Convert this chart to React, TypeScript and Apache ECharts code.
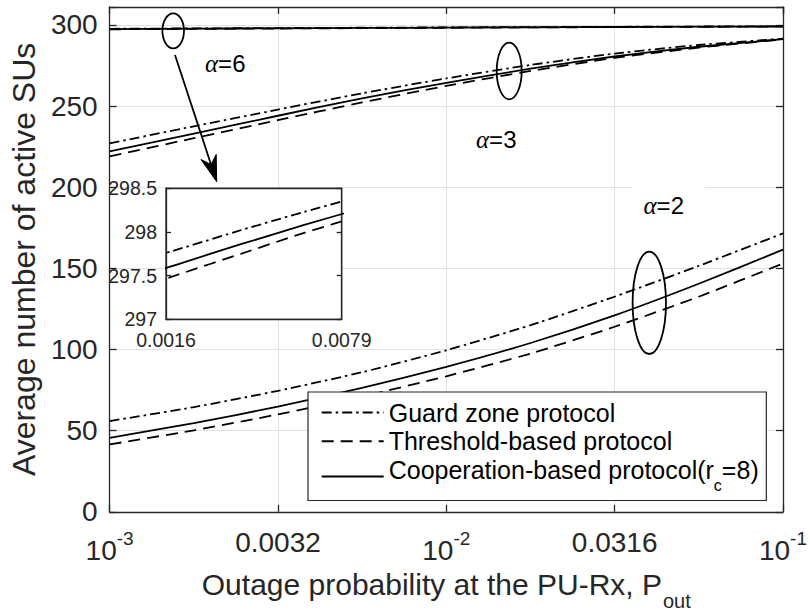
import React, { useEffect, useRef } from 'react';
import * as echarts from 'echarts';

// ---- data ----
const X_POUT = [0.001, 0.00178, 0.00316, 0.00562, 0.01, 0.0178, 0.0316, 0.0562, 0.1];

const GUARD_A2 = [55.9, 64.5, 74.5, 86, 99.5, 115, 132.5, 151.5, 171.5];
const THRESH_A2 = [41.5, 50.2, 60, 71, 83.5, 97.5, 114, 132.5, 153];
const COOP_A2 = [45.6, 54.6, 64.8, 76.3, 89.3, 104, 121, 140.5, 161.5];

const GUARD_A3 = [227, 237.5, 247.8, 257.8, 267, 275.3, 282.3, 287.6, 291.5];
const THRESH_A3 = [219, 230.2, 241.3, 252.2, 262.4, 271.6, 279.6, 286, 291];
const COOP_A3 = [222, 233, 244, 254.7, 264.3, 273, 280.5, 286.5, 291.2];

const GUARD_A6 = [297.58, 297.8, 298.02, 298.23, 298.43, 298.62, 298.8, 298.97, 299.12];
const THRESH_A6 = [297.26, 297.51, 297.75, 297.99, 298.21, 298.42, 298.62, 298.8, 298.97];
const COOP_A6 = [297.4, 297.63, 297.86, 298.08, 298.29, 298.49, 298.68, 298.86, 299.02];

const X_TICKS = [0.001, 0.0031623, 0.01, 0.031623, 0.1];
const X_TICK_LABELS = ['10^-3', '0.0032', '10^-2', '0.0316', '10^-1'];
const INSET_X_TICKS = [0.0016, 0.0079];
const INSET_X_LABELS = ['0.0016', '0.0079'];

const SERIES_NAMES = ['Guard zone protocol', 'Threshold-based protocol', 'Cooperation-based protocol'];

const FONT = 'Liberation Sans, Arial, sans-serif';
const AX = '#262626';
const GRIDC = '#e2e2e2';
const DASHDOT = [10, 4, 2.5, 4];
const DASHED = [12, 7];
const LW = 1.8;

function pairs(ys: number[]) {
  return X_POUT.map((x, i) => [x, ys[i]]);
}

function xLabel(v: number) {
  const lv = Math.log10(v);
  let best = 0;
  X_TICKS.forEach((t, i) => {
    if (Math.abs(Math.log10(t) - lv) < Math.abs(Math.log10(X_TICKS[best]) - lv)) best = i;
  });
  if (Math.abs(Math.log10(X_TICKS[best]) - lv) > 0.01) return '';
  const s = X_TICK_LABELS[best];
  if (s.indexOf('^') >= 0) {
    const [b, e] = s.split('^');
    return `{b|${b}}{s|${e}}`;
  }
  return `{n|${s}}`;
}

function insetXLabel(v: number) {
  for (let i = 0; i < INSET_X_TICKS.length; i++) {
    if (Math.abs(Math.log10(INSET_X_TICKS[i]) - Math.log10(v)) < 0.01) return INSET_X_LABELS[i];
  }
  return '';
}

export default function App() {
  const ref = useRef<HTMLDivElement>(null);
  useEffect(() => {
    const chart = echarts.init(ref.current!, null, { renderer: 'svg' });

    const styleFor = (k: number) => ({
      color: '#000',
      width: LW,
      type: k === 0 ? DASHDOT : k === 1 ? DASHED : 'solid',
    });

    const groups = [
      [GUARD_A2, THRESH_A2, COOP_A2],
      [GUARD_A3, THRESH_A3, COOP_A3],
      [GUARD_A6, THRESH_A6, COOP_A6],
    ];

    const series: any[] = [];
    groups.forEach((g) => {
      g.forEach((ys, k) => {
        series.push({
          type: 'line',
          name: SERIES_NAMES[k],
          xAxisIndex: 0,
          yAxisIndex: 0,
          data: pairs(ys),
          showSymbol: false,
          symbol: 'none',
          smooth: 0.2,
          lineStyle: styleFor(k),
          itemStyle: { color: '#000' },
          z: 3,
        });
      });
    });
    // inset: alpha = 6 zoomed
    groups[2].forEach((ys, k) => {
      series.push({
        type: 'line',
        name: SERIES_NAMES[k],
        xAxisIndex: 2,
        yAxisIndex: 2,
        data: pairs(ys),
        showSymbol: false,
        symbol: 'none',
        smooth: 0.2,
        clip: true,
        lineStyle: styleFor(k),
        itemStyle: { color: '#000' },
        z: 6,
      });
    });

    const axLine = { show: true, onZero: false, lineStyle: { color: AX, width: 1.3 } };
    const tickIn = (len: number) => ({ show: true, inside: true, length: len, lineStyle: { color: AX, width: 1.3 } });
    const alphaRich = {
      a: { fontSize: 25, fontStyle: 'italic', fontFamily: 'Liberation Serif, serif', fill: '#000' },
      b: { fontSize: 24, fontFamily: FONT, fill: '#000' },
    };

    const option: any = {
      animation: false,
      backgroundColor: '#fff',
      textStyle: { fontFamily: FONT },
      grid: [
        { left: 105, top: 7, right: 27, bottom: 101.5, show: false },
        { left: 166, top: 188.3, width: 175.7, height: 131, show: true, backgroundColor: '#fff', borderColor: AX, borderWidth: 1.3, z: 1 },
      ],
      xAxis: [
        {
          gridIndex: 0,
          type: 'log',
          logBase: Math.sqrt(10),
          min: 0.001,
          max: 0.1,
          position: 'bottom',
          axisLine: axLine,
          axisTick: tickIn(7),
          minorTick: { show: false },
          splitLine: { show: true, lineStyle: { color: GRIDC, width: 1 } },
          axisLabel: {
            margin: 16.8,
            color: AX,
            formatter: (v: number) => xLabel(v),
            rich: {
              n: { fontSize: 28, lineHeight: 28, verticalAlign: 'top', color: AX, fontFamily: FONT },
              b: { fontSize: 28, lineHeight: 28, verticalAlign: 'top', padding: [8, 0, 0, 0], color: AX, fontFamily: FONT },
              s: { fontSize: 19, lineHeight: 19, verticalAlign: 'top', color: AX, fontFamily: FONT },
            },
          },
          name: '{m|Outage probability at the PU-Rx, P}{s|out}',
          nameLocation: 'middle',
          nameGap: 57,
          nameTextStyle: {
            color: AX,
            rich: {
              m: { fontSize: 30, lineHeight: 30, verticalAlign: 'top', color: AX, fontFamily: FONT },
              s: { fontSize: 20, lineHeight: 20, verticalAlign: 'top', padding: [21.5, 0, 0, 1], color: AX, fontFamily: FONT },
            },
          },
        },
        {
          gridIndex: 0,
          type: 'log',
          logBase: Math.sqrt(10),
          min: 0.001,
          max: 0.1,
          position: 'top',
          axisLine: axLine,
          axisTick: tickIn(7),
          minorTick: { show: false },
          splitLine: { show: false },
          axisLabel: { show: false },
        },
        {
          gridIndex: 1,
          type: 'log',
          min: 0.0016,
          max: 0.0079,
          position: 'bottom',
          z: 5,
          axisLine: axLine,
          axisTick: { show: false },
          minorTick: { show: false },
          splitLine: { show: false },
          axisLabel: {
            margin: 11,
            color: AX,
            fontSize: 19.5,
            fontFamily: FONT,
            showMinLabel: true,
            showMaxLabel: true,
            formatter: (v: number) => insetXLabel(v),
          },
        },
        {
          gridIndex: 1,
          type: 'log',
          min: 0.0016,
          max: 0.0079,
          position: 'top',
          z: 5,
          axisLine: axLine,
          axisTick: { show: false },
          minorTick: { show: false },
          splitLine: { show: false },
          axisLabel: { show: false },
        },
      ],
      yAxis: [
        {
          gridIndex: 0,
          type: 'value',
          min: 0,
          max: 311,
          interval: 50,
          position: 'left',
          axisLine: axLine,
          axisTick: tickIn(7),
          splitLine: { show: true, lineStyle: { color: GRIDC, width: 1 } },
          axisLabel: {
            margin: 12,
            color: AX,
            fontSize: 28,
            fontFamily: FONT,
            formatter: (v: number) => (v % 50 === 0 ? String(v) : ''),
          },
          name: 'Average number of active SUs',
          nameLocation: 'middle',
          nameGap: 64,
          nameTextStyle: { color: AX, fontSize: 32, lineHeight: 32, fontFamily: FONT },
        },
        {
          gridIndex: 0,
          type: 'value',
          min: 0,
          max: 311,
          interval: 50,
          position: 'right',
          axisLine: axLine,
          axisTick: tickIn(7),
          splitLine: { show: false },
          axisLabel: { show: false },
        },
        {
          gridIndex: 1,
          type: 'value',
          min: 297,
          max: 298.5,
          interval: 0.5,
          position: 'left',
          z: 5,
          axisLine: axLine,
          axisTick: tickIn(5),
          splitLine: { show: false },
          axisLabel: { margin: 9, color: AX, fontSize: 19.5, fontFamily: FONT },
        },
        {
          gridIndex: 1,
          type: 'value',
          min: 297,
          max: 298.5,
          interval: 0.5,
          position: 'right',
          z: 5,
          axisLine: axLine,
          axisTick: tickIn(5),
          splitLine: { show: false },
          axisLabel: { show: false },
        },
      ],
      legend: {
        data: SERIES_NAMES,
        orient: 'vertical',
        left: 308,
        top: 392,
        itemWidth: 62,
        itemHeight: 14,
        itemGap: 3.7,
        padding: [8.1, 7.6, 7.4, 12.7],
        backgroundColor: '#fff',
        borderColor: AX,
        borderWidth: 1.2,
        z: 8,
        selectedMode: false,
        itemStyle: { color: 'rgba(0,0,0,0)', borderColor: 'rgba(0,0,0,0)', borderWidth: 0 },
        formatter: (name: string) =>
          name === SERIES_NAMES[2] ? '{T|Cooperation-based protocol(r}{u|c}{T|=8)}' : `{t|${name}}`,
        textStyle: {
          color: '#000',
          fontSize: 25,
          fontFamily: FONT,
          rich: {
            t: { fontSize: 25, lineHeight: 25, color: '#000', fontFamily: FONT },
            T: { fontSize: 25, lineHeight: 25, verticalAlign: 'top', color: '#000', fontFamily: FONT },
            u: { fontSize: 16, verticalAlign: 'top', padding: [19.6, 0, 2.5, 0], color: '#000', fontFamily: FONT },
          },
        },
      },
      graphic: [
        // alpha=6 marker
        { type: 'ellipse', z: 10, shape: { cx: 173.2, cy: 30.8, rx: 10.8, ry: 17.5 }, style: { fill: 'none', stroke: '#000', lineWidth: 1.8 } },
        { type: 'line', z: 10, shape: { x1: 175, y1: 55, x2: 211, y2: 164.5 }, style: { stroke: '#000', lineWidth: 1.8 } },
        {
          type: 'polygon',
          z: 10,
          shape: { points: [[216.7, 181.7], [201.0, 159.5], [211.1, 164.6], [216.2, 154.5]] },
          style: { fill: '#000', stroke: '#000', lineWidth: 1 },
        },
        {
          type: 'text',
          z: 10,
          x: 205,
          y: 63.3,
          style: { text: '{a|α}{b|=6}', verticalAlign: 'middle', rich: alphaRich },
        },
        // alpha=3 marker
        { type: 'ellipse', z: 10, shape: { cx: 509.2, cy: 71, rx: 12.5, ry: 28.3 }, style: { fill: 'none', stroke: '#000', lineWidth: 1.8 } },
        {
          type: 'text',
          z: 10,
          x: 476,
          y: 139,
          style: { text: '{a|α}{b|=3}', verticalAlign: 'middle', rich: alphaRich },
        },
        // alpha=2 marker
        { type: 'rect', z: 2, shape: { x: 632, y: 186.5, width: 73, height: 34 }, style: { fill: '#fff' } },
        { type: 'ellipse', z: 10, shape: { cx: 649.3, cy: 302.8, rx: 16.7, ry: 51.2 }, style: { fill: 'none', stroke: '#000', lineWidth: 1.8 } },
        {
          type: 'text',
          z: 10,
          x: 643.5,
          y: 205,
          style: { text: '{a|α}{b|=2}', verticalAlign: 'middle', rich: alphaRich },
        },
      ],
      series,
    };

    chart.setOption(option);
    return () => chart.dispose();
  }, []);

  return (
    <div
      ref={ref}
      style={{ position: 'fixed', left: 0, top: 0, width: 810, height: 616, background: '#fff' }}
    />
  );
}
